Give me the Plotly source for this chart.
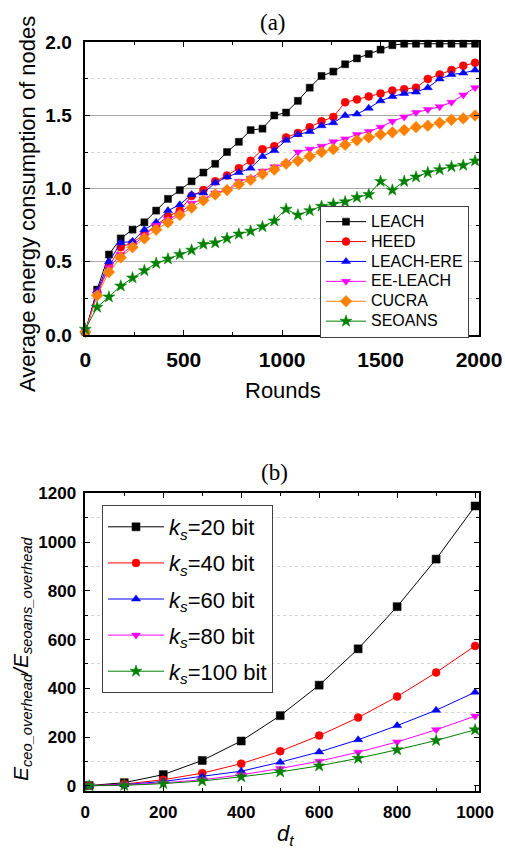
import plotly.graph_objects as go

# ---------------- panel (a): average energy consumption vs rounds ----------------
rounds = [0, 60, 120, 180, 240, 300, 360, 420, 480, 540, 600, 660, 720, 780, 840, 900,
          960, 1020, 1080, 1140, 1200, 1260, 1320, 1380, 1440, 1500, 1560, 1620, 1680,
          1740, 1800, 1860, 1920, 1980]

leach = [0.02, 0.31, 0.55, 0.66, 0.72, 0.77, 0.85, 0.93, 0.99, 1.05, 1.11, 1.17, 1.25, 1.32,
         1.40, 1.41, 1.50, 1.52, 1.60, 1.69, 1.77, 1.80, 1.85, 1.89, 1.92, 1.95, 1.98, 1.99,
         1.99, 1.99, 1.99, 1.99, 1.99, 1.99]
heed = [0.02, 0.29, 0.47, 0.60, 0.63, 0.69, 0.75, 0.81, 0.85, 0.95, 0.99, 1.05, 1.09, 1.14,
        1.19, 1.27, 1.29, 1.35, 1.38, 1.42, 1.46, 1.49, 1.59, 1.61, 1.63, 1.65, 1.67, 1.68,
        1.69, 1.75, 1.78, 1.81, 1.84, 1.86]
leach_ere = [0.02, 0.30, 0.50, 0.63, 0.64, 0.72, 0.77, 0.85, 0.89, 0.96, 0.97, 1.04, 1.08,
             1.11, 1.14, 1.22, 1.26, 1.33, 1.37, 1.39, 1.43, 1.45, 1.50, 1.51, 1.55, 1.60,
             1.63, 1.65, 1.66, 1.69, 1.75, 1.78, 1.79, 1.81]
ee_leach = [0.02, 0.28, 0.46, 0.55, 0.61, 0.68, 0.75, 0.79, 0.83, 0.90, 0.93, 0.97, 0.99,
            1.05, 1.07, 1.12, 1.15, 1.17, 1.25, 1.27, 1.29, 1.32, 1.34, 1.37, 1.39, 1.42,
            1.46, 1.49, 1.52, 1.54, 1.56, 1.59, 1.64, 1.69]
cucra = [0.02, 0.27, 0.43, 0.53, 0.60, 0.66, 0.72, 0.77, 0.82, 0.87, 0.92, 0.96, 0.99, 1.03,
         1.06, 1.10, 1.13, 1.17, 1.19, 1.22, 1.25, 1.27, 1.30, 1.33, 1.35, 1.37, 1.385, 1.40,
         1.42, 1.43, 1.45, 1.47, 1.48, 1.50]
seoans = [0.04, 0.19, 0.26, 0.335, 0.39, 0.44, 0.49, 0.52, 0.55, 0.58, 0.62, 0.63, 0.66,
          0.69, 0.71, 0.74, 0.78, 0.86, 0.82, 0.85, 0.88, 0.895, 0.91, 0.94, 0.96, 1.05,
          0.99, 1.05, 1.08, 1.11, 1.13, 1.15, 1.16, 1.19]

# ---------------- panel (b): overhead ratio vs distance d_t ----------------
dt = [10, 100, 200, 300, 400, 500, 600, 700, 800, 900, 1000]
ks20 = [1, 13, 46, 104, 184, 288, 413, 562, 735, 930, 1148]
ks40 = [0.5, 7, 25, 52, 91, 142, 206, 280, 366, 465, 574]
ks60 = [0.3, 5, 18, 38, 60, 97, 139, 189, 247, 310, 384]
ks80 = [0.2, 4, 12, 25, 45, 71, 101, 138, 180, 230, 286]
ks100 = [0.1, 2, 9, 20, 37, 57, 82, 113, 148, 186, 230]

W, H = 505, 855
SANS = "Liberation Sans, Arial, sans-serif"
SERIF = "Liberation Serif, Times New Roman, serif"

series_a = [
    ("LEACH", leach, "#000000", "square", 7),
    ("HEED", heed, "#FF0000", "circle", 8),
    ("LEACH-ERE", leach_ere, "#0000FF", "triangle-up", 8),
    ("EE-LEACH", ee_leach, "#FF00FF", "triangle-down", 8),
    ("CUCRA", cucra, "#FF8000", "diamond", 9),
    ("SEOANS", seoans, "#008000", "star", 9),
]
series_b = [
    ("20", ks20, "#000000", "square", 8),
    ("40", ks40, "#FF0000", "circle", 8),
    ("60", ks60, "#0000FF", "triangle-up", 8),
    ("80", ks80, "#FF00FF", "triangle-down", 8),
    ("100", ks100, "#008000", "star", 9),
]

fig = go.Figure()

# legend rows of panel (a) are packed tighter than the 16px label text would give
for name, ys, col, sym, sz in series_a:
    fig.add_trace(go.Scatter(
        x=rounds, y=ys, name=f"<span style='font-size:16px'>{name}</span>",
        mode="lines+markers",
        line=dict(color=col, width=1),
        marker=dict(symbol=sym, size=sz, color=col, line=dict(width=0.5, color=col)),
        xaxis="x", yaxis="y", legend="legend", legendgroup="a" + name,
        cliponaxis=False,
    ))

for ks, ys, col, sym, sz in series_b:
    fig.add_trace(go.Scatter(
        x=dt, y=ys, name=f"<i>k</i><sub><i>s</i></sub>={ks} bit", mode="lines+markers",
        line=dict(color=col, width=1),
        marker=dict(symbol=sym, size=sz, color=col, line=dict(width=0.5, color=col)),
        xaxis="x2", yaxis="y2", legend="legend2", legendgroup="b" + ks,
        cliponaxis=False,
    ))


def px_x(p):
    return p / W


def px_y(p):
    return 1 - p / H


def frame(size):
    return dict(showline=True, linecolor="black", linewidth=1.5, mirror="allticks",
                ticks="inside", ticklen=5, tickwidth=1.2, tickcolor="black",
                zeroline=False, automargin=False,
                tickfont=dict(family=SANS, size=size, color="black", weight="bold"))


def note(text, x, y, size, family=SANS, angle=0):
    return dict(text=text, x=px_x(x), y=px_y(y), xref="paper", yref="paper",
                xanchor="center", yanchor="middle", textangle=angle, showarrow=False,
                font=dict(family=family, size=size, color="black"))


fig.update_layout(
    width=W, height=H, autosize=False,
    margin=dict(l=0, r=0, t=0, b=0, pad=0, autoexpand=False),
    paper_bgcolor="white", plot_bgcolor="white",
    showlegend=True,
    xaxis=dict(domain=[px_x(85.3), px_x(479)], range=[0, 2000], dtick=500, tick0=0,
               showgrid=False, anchor="y", ticklabelstandoff=5,
               minor=dict(dtick=250, ticks="inside", ticklen=3, tickcolor="black", showgrid=False),
               **frame(21)),
    yaxis=dict(domain=[px_y(335), px_y(42.3)], range=[0, 2.0], dtick=0.5, tick0=0,
               tickformat=".1f", showgrid=True, gridcolor="#a8a8a8", gridwidth=1,
               anchor="x", ticklabelstandoff=8,
               minor=dict(dtick=0.25, ticks="inside", ticklen=3, tickcolor="black",
                          showgrid=True, gridcolor="#d4d4d4", griddash="dot", gridwidth=1),
               **frame(19)),
    xaxis2=dict(domain=[px_x(85.3), px_x(479)], range=[0, 1010], dtick=200, tick0=0,
                showgrid=False, anchor="y2", ticklabelstandoff=5,
                minor=dict(dtick=100, ticks="inside", ticklen=3, tickcolor="black", showgrid=False),
                **frame(17)),
    yaxis2=dict(domain=[px_y(790.7), px_y(493.3)], range=[-20, 1200], dtick=200, tick0=0,
                showgrid=False, anchor="x2", ticklabelstandoff=4,
                minor=dict(dtick=100, ticks="inside", ticklen=3, tickcolor="black",
                           showgrid=True, gridcolor="#d4d4d4", griddash="dot", gridwidth=1),
                **frame(17)),
    legend=dict(x=px_x(320), y=px_y(205.7), xanchor="left", yanchor="top",
                bgcolor="white", bordercolor="#404040", borderwidth=1,
                font=dict(family=SANS, size=13, color="black"),
                tracegroupgap=0, itemwidth=40),
    legend2=dict(x=px_x(102), y=px_y(505), xanchor="left", yanchor="top",
                 bgcolor="white", bordercolor="#404040", borderwidth=1,
                 font=dict(family=SANS, size=22, color="black"),
                 tracegroupgap=4.5, itemwidth=56),
    annotations=[
        note("(a)", 273, 22, 23, SERIF),
        note("(b)", 274, 472, 23, SERIF),
        note("Rounds", 283, 390, 22),
        note("Average energy consumption of nodes", 28, 204, 22, angle=-90),
        note("<i>d</i><sub><i>t</i></sub>", 285, 835, 22),
        note("<i>E</i><sub><i>ceo_overhead</i></sub><i>/E</i><sub><i>seoans_overhead</i></sub>",
             22, 659, 21, angle=-90),
    ],
)

fig.write_html("out.html")
